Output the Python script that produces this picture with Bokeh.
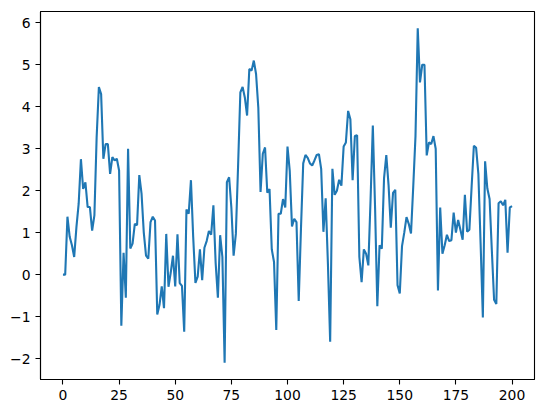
from bokeh.plotting import figure
from bokeh.models import Range1d, FixedTicker
from bokeh.embed import file_html
from bokeh.resources import INLINE

steps = list(range(201))
values = [
    0.0, 0.0, 1.38, 0.9, 0.7, 0.42, 1.13, 1.69, 2.75, 2.04,
    2.2, 1.61, 1.61, 1.05, 1.41, 3.27, 4.47, 4.3, 2.76, 3.11,
    3.11, 2.4, 2.8, 2.72, 2.76, 2.48, -1.22, 0.52, -0.55, 3.0,
    0.62, 0.74, 1.21, 1.18, 2.37, 1.93, 1.0, 0.45, 0.38, 1.25,
    1.38, 1.29, -0.95, -0.72, -0.28, -0.8, 0.97, -0.29, 0.05, 0.45,
    -0.28, 0.96, -0.2, -0.27, -1.36, 1.55, 1.45, 2.25, 0.9, -0.2,
    -0.05, 0.6, -0.13, 0.64, 0.8, 1.04, 0.95, 1.65, 0.28, -0.55,
    0.94, 0.42, -2.1, 2.2, 2.32, 1.6, 0.45, 0.97, 2.6, 4.34,
    4.47, 4.22, 3.79, 4.9, 4.86, 5.1, 4.78, 3.98, 1.97, 2.88,
    3.03, 1.95, 2.04, 0.6, 0.3, -1.32, 1.45, 1.45, 1.8, 1.6,
    3.05, 2.47, 1.15, 1.33, 1.25, -0.63, 1.1, 2.65, 2.85, 2.78,
    2.65, 2.6, 2.72, 2.85, 2.87, 2.52, 1.02, 1.82, 0.26, -1.6,
    2.52, 1.9, 2.0, 2.26, 2.12, 3.05, 3.15, 3.9, 3.7, 2.25,
    3.3, 3.32, 0.42, -0.18, 0.6, 0.5, 0.22, 1.8, 3.55, 1.6,
    -0.75, 0.7, 0.62, 2.3, 2.85, 2.14, 1.12, 1.95, 2.02, -0.25,
    -0.45, 0.68, 1.0, 1.37, 1.21, 0.98, 2.1, 3.3, 5.87, 4.58,
    5.0, 5.0, 2.84, 3.15, 3.11, 3.3, 3.0, -0.38, 1.6, 0.5,
    0.7, 0.95, 0.8, 0.82, 1.48, 1.0, 1.3, 1.07, 0.83, 1.9,
    1.02, 1.07, 2.1, 3.07, 3.02, 2.4, 0.74, -1.02, 2.7, 2.05,
    1.8, 0.58, -0.6, -0.7, 1.7, 1.75, 1.65, 1.78, 0.52, 1.6,
    1.63,
]
x_ticks = [0, 25, 50, 75, 100, 125, 150, 175, 200]
y_ticks = [-2, -1, 0, 1, 2, 3, 4, 5, 6]
y_labels = {t: (str(t) if t >= 0 else "\u2212" + str(-t)) for t in y_ticks}

xmin, xmax = min(steps), max(steps)
ymin, ymax = min(values), max(values)
xpad = 0.05 * (xmax - xmin)
ypad = 0.05 * (ymax - ymin)

p = figure(width=538, height=405, output_backend="svg", toolbar_location=None,
           x_range=Range1d(xmin - xpad, xmax + xpad),
           y_range=Range1d(ymin - ypad, ymax + ypad),
           min_border_left=40, min_border_right=4,
           min_border_top=11, min_border_bottom=26)
p.background_fill_color = "white"
p.border_fill_color = "white"
p.outline_line_color = "black"
p.outline_line_width = 1.1
p.grid.visible = False

p.line(steps, values, line_color="#1f77b4", line_width=2.1)

for ax in (p.xaxis[0], p.yaxis[0]):
    ax.axis_line_color = "black"
    ax.axis_line_width = 1.1
    ax.major_tick_line_color = "black"
    ax.major_tick_line_width = 1.1
    ax.major_tick_out = 5
    ax.major_tick_in = 0
    ax.minor_tick_line_color = None
    ax.major_label_text_font = "DejaVu Sans"
    ax.major_label_text_font_size = "13.9px"
    ax.major_label_text_color = "black"
    ax.major_label_standoff = 5

p.xaxis.ticker = FixedTicker(ticks=x_ticks)
p.yaxis.ticker = FixedTicker(ticks=y_ticks)
p.yaxis.major_label_overrides = y_labels

open("out.html", "w").write(file_html(p, INLINE))
